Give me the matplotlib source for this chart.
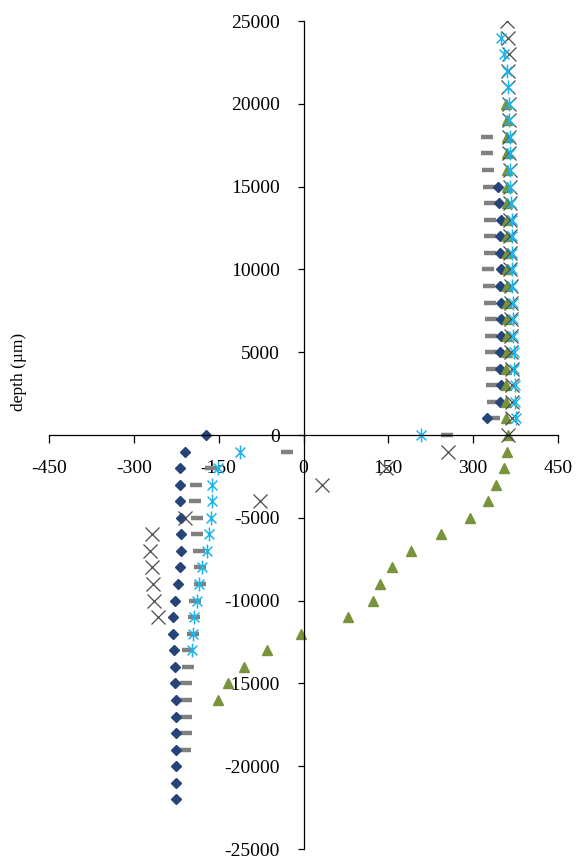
import numpy as np
import matplotlib.pyplot as plt
from matplotlib.path import Path

plt.rcParams['font.family'] = ['Liberation Serif', 'DejaVu Serif']
plt.rcParams['axes.unicode_minus'] = False

# depths (um) and x-values
dash_depth = [18000, 17000, 16000, 15000, 14000, 13000, 12000, 11000, 10000, 9000,
              8000, 7000, 6000, 5000, 4000, 3000, 2000, 1000, 0, -1000,
              -2000, -3000, -4000, -5000, -6000, -7000, -8000, -9000, -10000, -11000,
              -12000, -13000, -14000, -15000, -16000, -17000, -18000, -19000]
dash_x = [324, 324, 326, 328, 330, 330, 330, 330, 326, 328,
          330, 331, 331, 331, 333, 333, 335, 336, 253, -30,
          -164, -190, -192, -189, -188, -185, -183, -183, -191, -194,
          -196, -204, -205, -207, -208, -208, -208, -209]

diam_depth = [15000, 14000, 13000, 12000, 11000, 10000, 9000, 8000, 7000, 6000,
              5000, 4000, 3000, 2000, 1000, 0, -1000, -2000, -3000, -4000,
              -5000, -6000, -7000, -8000, -9000, -10000, -11000, -12000, -13000, -14000,
              -15000, -16000, -17000, -18000, -19000, -20000, -21000, -22000]
diam_x = [344, 346, 349, 347, 347, 349, 347, 349, 349, 349,
          347, 347, 349, 347, 325, -172, -210, -218, -218, -218,
          -217, -216, -217, -218, -222, -227, -230, -230, -229, -228,
          -227, -225, -225, -225, -225, -225, -225, -225]

star_depth = [24000, 23000, 22000, 21000, 20000, 19000, 18000, 17000, 16000, 15000,
              14000, 13000, 12000, 11000, 10000, 9000, 8000, 7000, 6000, 5000,
              4000, 3000, 2000, 1000, 0, -1000, -2000, -3000, -4000, -5000,
              -6000, -7000, -8000, -9000, -10000, -11000, -12000, -13000]
star_x = [350, 355, 360, 361, 363, 364, 365, 365, 366, 366,
          367, 368, 368, 368, 369, 369, 370, 370, 371, 372,
          373, 374, 374, 375, 208, -112, -151, -161, -162, -164,
          -167, -171, -180, -185, -188, -194, -195, -198]

tri_depth = [20000, 19000, 18000, 17000, 16000, 15000, 14000, 13000, 12000, 11000,
             10000, 9000, 8000, 7000, 6000, 5000, 4000, 3000, 2000, 1000,
             0, -1000, -2000, -3000, -4000, -5000, -6000, -7000, -8000, -9000,
             -10000, -11000, -12000, -13000, -14000, -15000, -16000]
tri_x = [358, 359, 359, 360, 360, 360, 360, 360, 360, 360,
         360, 360, 360, 359, 359, 359, 358, 358, 358, 358,
         362, 359, 355, 340, 327, 294, 244, 190, 156, 135,
         123, 78, -5, -64, -106, -134, -151]

x_depth = [25000, 24000, 23000, 22000, 21000, 20000, 19000, 18000, 17000, 16000,
           15000, 14000, 13000, 12000, 11000, 10000, 9000, 8000, 7000, 6000,
           5000, 4000, 3000, 2000, 1000, 0, -1000, -2000, -3000, -4000,
           -5000, -6000, -7000, -8000, -9000, -10000, -11000]
x_x = [359, 362, 363, 362, 362, 363, 363, 364, 364, 365,
       365, 365, 366, 366, 366, 366, 367, 367, 367, 367,
       367, 368, 368, 368, 368, 362, 255, 145, 32, -77,
       -210, -267, -271, -268, -266, -264, -258]

xticks = [-450, -300, -150, 0, 150, 300, 450]
yticks = [-25000, -20000, -15000, -10000, -5000, 0, 5000, 10000, 15000, 20000, 25000]

# excel style star: X plus vertical bar
d = 0.7071
star = Path([(0, -1), (0, 1), (-d, -d), (d, d), (-d, d), (d, -d)],
            [Path.MOVETO, Path.LINETO, Path.MOVETO, Path.LINETO, Path.MOVETO, Path.LINETO])

fig = plt.figure(figsize=(5.84, 8.61), dpi=100)
ax = fig.add_axes([49 / 584, 1 - 849 / 861, 509 / 584, 828 / 861])

ax.plot(dash_x, dash_depth, ls='none', marker='_', ms=9, mew=3.2, color='#808080')
ax.plot(diam_x, diam_depth, ls='none', marker='D', ms=5.6, color='#264478')
ax.plot(tri_x, tri_depth, ls='none', marker='^', ms=7.5, color='#77933C')
ax.plot(x_x, x_depth, ls='none', marker='x', ms=9.5, mew=0.9, color='#4a4a4a')
ax.plot(star_x, star_depth, ls='none', marker=star, ms=10, mew=1.1, color='#1CB4EE',
        fillstyle='none')

ax.set_xlim(-450, 450)
ax.set_ylim(-25000, 25000)
ax.set_xticks(xticks)
ax.set_yticks(yticks)
ax.patch.set_alpha(0)

ax.spines['left'].set_position(('data', 0))
ax.spines['bottom'].set_position(('data', 0))
ax.spines['top'].set_visible(False)
ax.spines['right'].set_visible(False)
for s in ['left', 'bottom']:
    ax.spines[s].set_linewidth(0.9)
    ax.spines[s].set_color('#000000')

ax.tick_params(axis='x', direction='out', length=6, width=0.9, pad=12, labelsize=14)
ax.tick_params(axis='y', direction='out', length=4, width=0.9, pad=13, labelsize=14)

fig.text(0.032, 1 - 372 / 861, 'depth (µm)', rotation=90, ha='center', va='center', fontsize=12.5)

fig.savefig('out.png', dpi=100)
